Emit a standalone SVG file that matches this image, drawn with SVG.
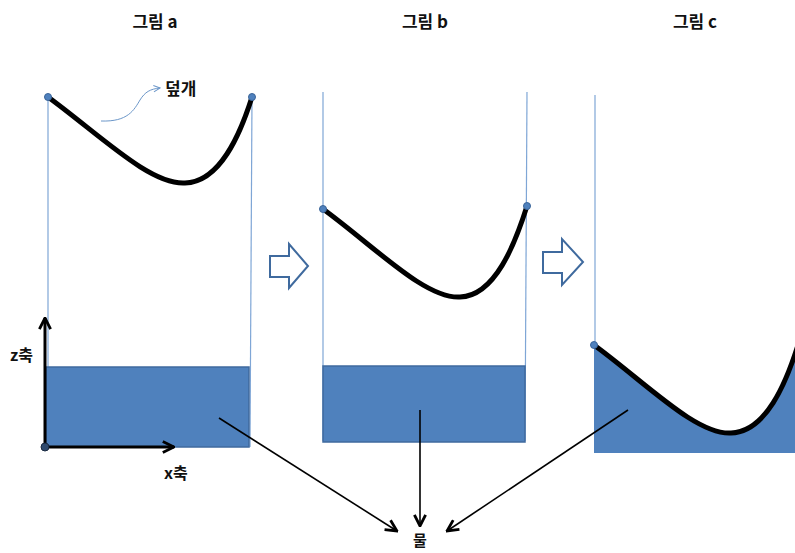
<svg xmlns="http://www.w3.org/2000/svg" width="795" height="553" viewBox="0 0 795 553">
<defs>
<style>
.t{font-family:"Noto Sans CJK KR","Noto Sans",sans-serif;font-weight:bold;fill:#111;}
.v{stroke:#7FA6D6;stroke-width:1.2;fill:none;}
.cv{stroke:#000;stroke-width:5;fill:none;stroke-linecap:round;}
.dot{fill:#4F81BD;stroke:#3A6499;stroke-width:1;}
.water{fill:#4F81BD;stroke:#3F6A9E;stroke-width:1.5;}
.hol{fill:#fff;stroke:#3F6A9E;stroke-width:2;}
.k{stroke:#000;stroke-width:1.6;fill:none;}
</style>
<marker id="ah2" viewBox="0 0 10 10" refX="9" refY="5" markerWidth="14" markerHeight="14" markerUnits="userSpaceOnUse" orient="auto"><path d="M1,1 L9,5 L1,9" fill="none" stroke="#000" stroke-width="2"/></marker>
<marker id="ahb" viewBox="0 0 10 10" refX="9" refY="5" markerWidth="8" markerHeight="8" markerUnits="userSpaceOnUse" orient="auto"><path d="M1,1 L9,5 L1,9" fill="none" stroke="#6C97C9" stroke-width="1.2"/></marker>
<path id="curve" d="M0,0 C52,38 102,88 137,86 C172,85 192,38 204,0"/>
</defs>
<rect width="795" height="553" fill="#fff"/>

<g id="fig-a">
<text class="t" x="155" y="28" font-size="17" text-anchor="middle">그림 a</text>
<line class="v" x1="48" y1="97" x2="48" y2="447"/>
<line class="v" x1="252" y1="97" x2="250" y2="447"/>
<rect class="water" x="46" y="367" width="203" height="80"/>
<use href="#curve" class="cv" x="48" y="97"/>
<circle class="dot" cx="48" cy="97" r="3.5"/>
<circle class="dot" cx="252" cy="97" r="3.5"/>
<path d="M101,121 C128,122 134,110 140,100 C145,92 150,89 160,88" fill="none" stroke="#6C97C9" stroke-width="1" marker-end="url(#ahb)"/>
<text class="t" x="165" y="95" font-size="17">덮개</text>
</g>

<g id="axes">
<line x1="45" y1="447" x2="45" y2="318" stroke="#000" stroke-width="3" marker-end="url(#ah2)"/>
<line x1="45" y1="447" x2="174" y2="447" stroke="#000" stroke-width="3" marker-end="url(#ah2)"/>
<circle cx="45" cy="447" r="4" fill="#2F4A6E" stroke="#1A2A40" stroke-width="1"/>
<text class="t" x="10" y="361" font-size="16">z축</text>
<text class="t" x="164" y="479" font-size="16">x축</text>
</g>

<g id="step1">
<path class="hol" d="M270,256 L289,256 L289,244 L308,266 L289,288 L289,277 L270,277 Z"/>
</g>

<g id="fig-b">
<text class="t" x="425" y="28" font-size="17" text-anchor="middle">그림 b</text>
<line class="v" x1="323" y1="92" x2="323" y2="441"/>
<line class="v" x1="527" y1="92" x2="525" y2="441"/>
<rect class="water" x="323" y="366" width="202" height="76"/>
<path class="cv" d="M323,209 C375,247 425,299 460,297 C495,296 515,244 527,206"/>
<circle class="dot" cx="323" cy="209" r="3.5"/>
<circle class="dot" cx="527" cy="206" r="3.5"/>
</g>

<g id="step2">
<path class="hol" d="M543,252 L562,252 L562,239 L583,262 L562,285 L562,273 L543,273 Z"/>
</g>

<g id="fig-c">
<text class="t" x="695" y="28" font-size="17" text-anchor="middle">그림 c</text>
<line class="v" x1="595" y1="95" x2="595" y2="345"/>
<path d="M594,345 C646,383 696,435 731,433 C766,432 786,383 798,345 L798,453 L594,453 Z" fill="#4F81BD"/>
<path class="cv" d="M594,345 C646,383 696,435 731,433 C766,432 786,383 798,345"/>
<circle class="dot" cx="594" cy="345" r="3.5"/>
</g>

<g id="connectors">
<line class="k" x1="219" y1="418" x2="397" y2="531" marker-end="url(#ah2)"/>
<line class="k" x1="420" y1="410" x2="420" y2="526" marker-end="url(#ah2)"/>
<line class="k" x1="628" y1="410" x2="447" y2="531" marker-end="url(#ah2)"/>
</g>

<g id="water-label">
<text class="t" x="420" y="546" font-size="15" text-anchor="middle">물</text>
</g>
</svg>
